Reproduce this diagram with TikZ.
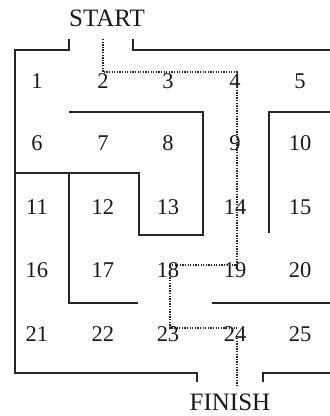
\documentclass[tikz,border=0pt]{standalone}
\usepackage{fontspec}
\setmainfont{Liberation Serif}
\begin{document}
\begin{tikzpicture}[x=1pt,y=-1pt,
  wall/.style={line width=2pt,draw=black!85},
  route/.style={line width=1.3pt,dash pattern=on 1.3pt off 1.3pt,draw=black!85},
  num/.style={font=\fontsize{22.5}{22.5}\selectfont,inner sep=0pt,text=black!90},
  lbl/.style={font=\fontsize{25}{25}\selectfont,inner sep=0pt,text=black!90}]
\useasboundingbox (0,0) rectangle (330,416);
% labels
\node[lbl] (start) at (107,18) {START};
\node[lbl] (finish) at (230,402) {FINISH};
% numbers
\foreach \r/\y in {0/81,1/143,2/207,3/270,4/334}{
  \foreach \c/\x in {1/37,2/103,3/168,4/235,5/300}{
    \pgfmathtruncatemacro{\k}{\r*5+\c}
    \node[num] (n\k) at (\x,\y) {\k};
  }
}
% walls
\draw[wall] (69,39) -- (69,50) -- (15,50) -- (15,373) -- (197,373) -- (197,382);
\draw[wall] (133,39) -- (133,50) -- (330,50);
\draw[wall] (263,382) -- (263,373) -- (330,373);
\draw[wall] (69,112) -- (203,112) -- (203,235) -- (139,235) -- (139,173) -- (15,173);
\draw[wall] (69,173) -- (69,303) -- (138,303);
\draw[wall] (330,112) -- (269,112) -- (269,233);
\draw[wall] (212,303) -- (330,303);
% route
\coordinate (p0) at (103,39);
\coordinate (p1) at (103,72);
\coordinate (p2) at (237,72);
\coordinate (p3) at (237,265);
\coordinate (p4) at (170,265);
\coordinate (p5) at (170,328);
\coordinate (p6) at (237,328);
\coordinate (p7) at (237,385);
\draw[route] (p0) -- (p1) -- (p2) -- (p3) -- (p4) -- (p5) -- (p6);
\draw[route] (237,338) -- (p7);
\end{tikzpicture}
\end{document}
